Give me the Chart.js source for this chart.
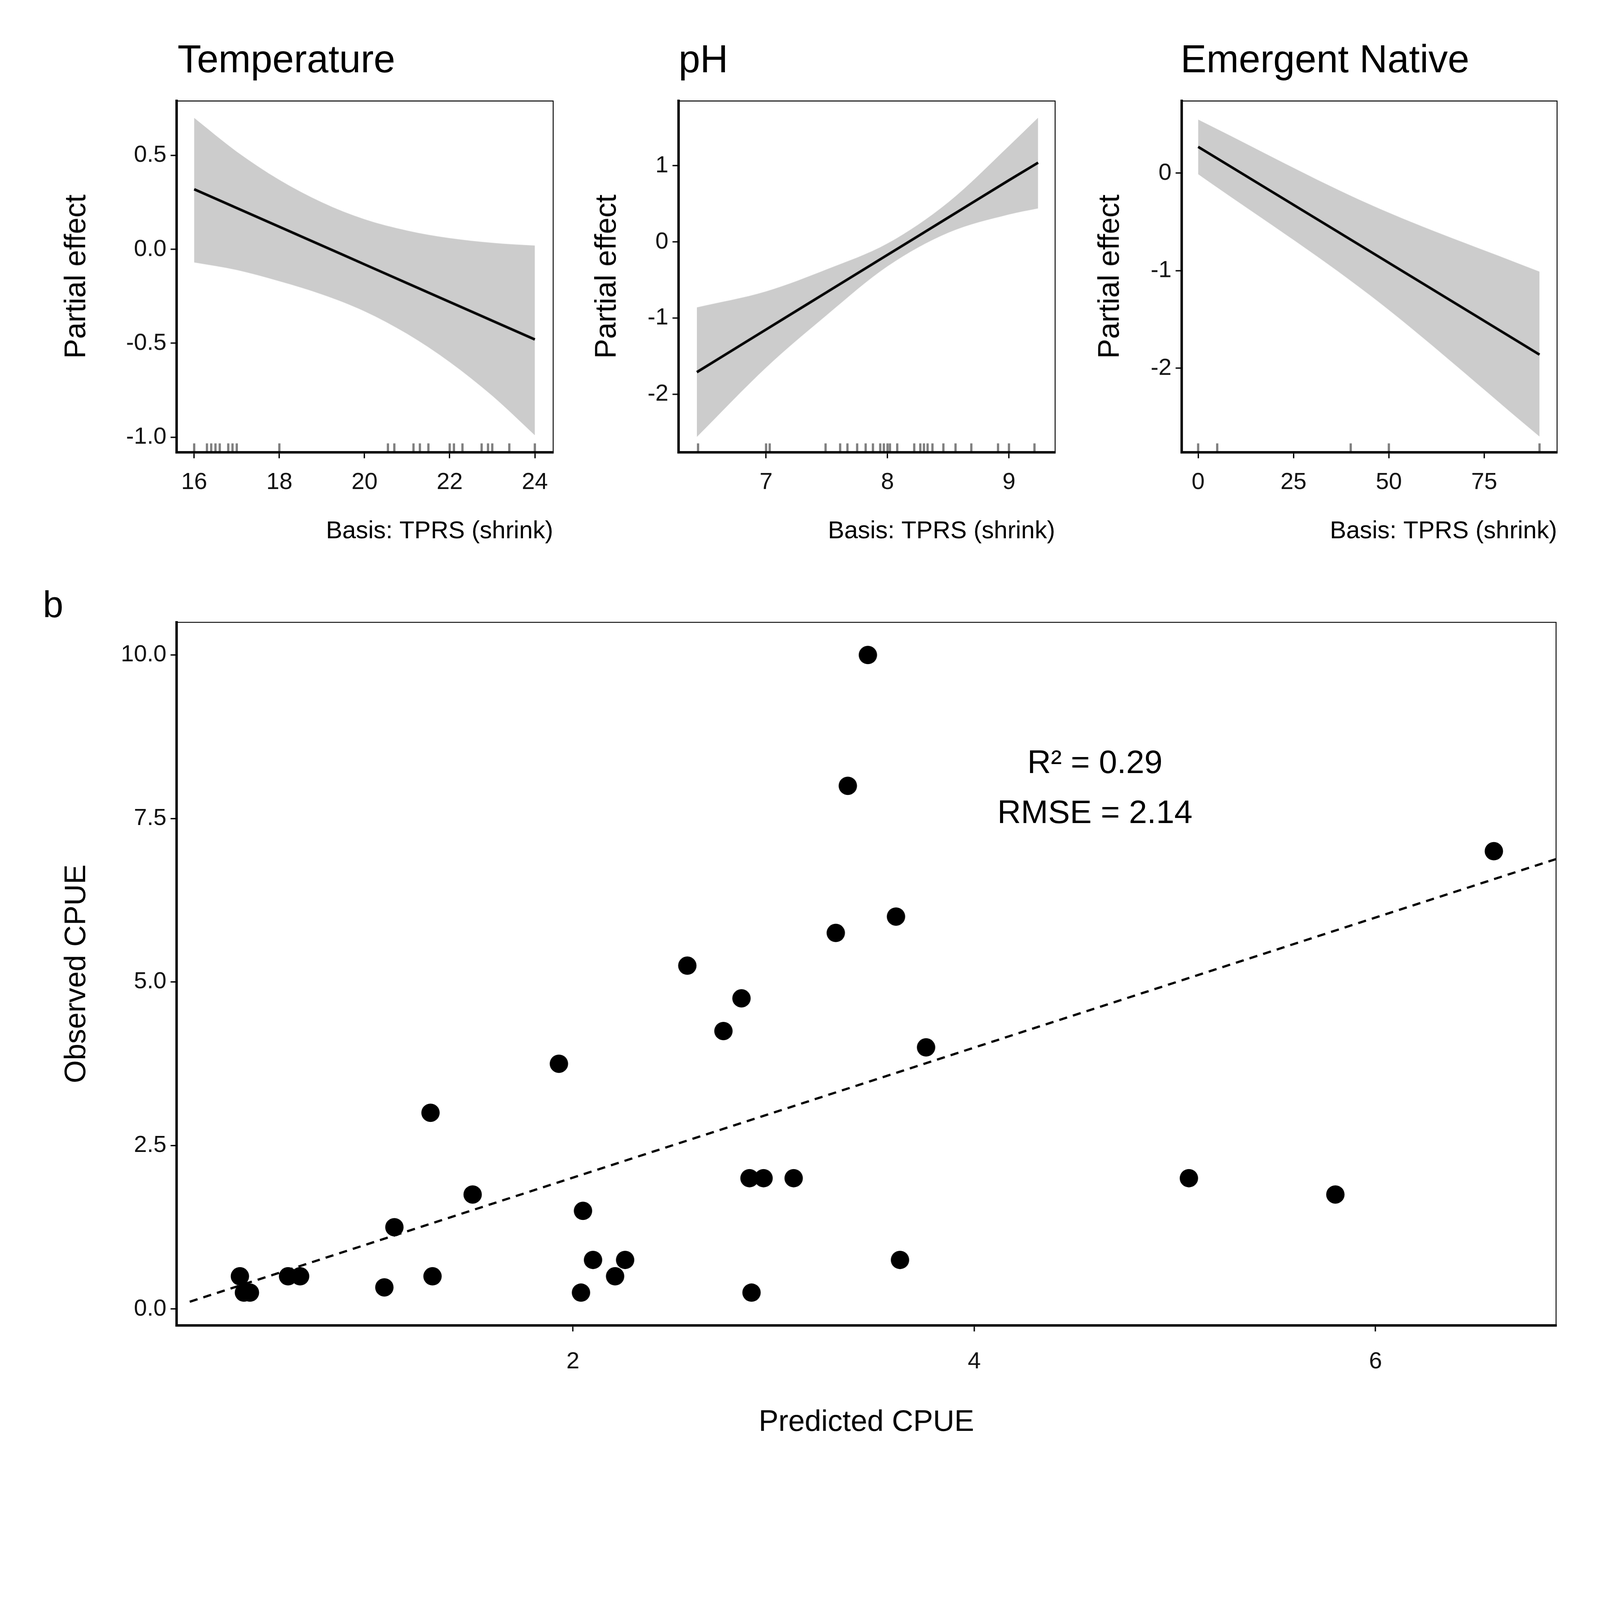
<!DOCTYPE html>
<html><head><meta charset="utf-8">
<script src="https://cdn.jsdelivr.net/npm/chart.js@4"></script>
<style>
html,body{margin:0;padding:0;background:#fff;overflow:hidden;}
#wrap{position:relative;width:100vw;height:100vh;font-family:"Liberation Sans",Arial,sans-serif;}
canvas{position:absolute;}
.t{position:absolute;color:#000;white-space:nowrap;}
</style></head>
<body>
<div id="wrap"></div>
<script>
// --- данные: температура
var tempX = [16, 17, 18, 19, 20, 21, 22, 23, 24];
var tempFit = [0.32, 0.22, 0.12, 0.02, -0.08, -0.18, -0.28, -0.38, -0.48];
var tempUpper = [0.70, 0.52, 0.37, 0.25, 0.16, 0.10, 0.06, 0.035, 0.02];
var tempLower = [-0.07, -0.11, -0.17, -0.24, -0.33, -0.45, -0.60, -0.78, -0.99];
var tempRug = [16.0, 16.3, 16.4, 16.5, 16.6, 16.8, 16.9, 17.0, 18.0, 20.55, 20.7, 21.15, 21.3, 21.5, 22.0, 22.1, 22.3, 22.75, 22.9, 23.0, 23.4, 24.0];
var tempTicks = [-1.0, -0.5, 0.0, 0.5];
var tempXTicks = [16, 18, 20, 22, 24];
// --- pH
var phX = [6.43, 7, 7.5, 8, 8.5, 9, 9.24];
var phFit = [-1.71, -1.15, -0.66, -0.17, 0.32, 0.81, 1.04];
var phUpper = [-0.86, -0.65, -0.36, -0.02, 0.52, 1.26, 1.63];
var phLower = [-2.56, -1.65, -0.96, -0.32, 0.12, 0.36, 0.44];
var phRug = [6.44, 7.0, 7.03, 7.49, 7.61, 7.67, 7.75, 7.82, 7.88, 7.94, 7.97, 8.0, 8.02, 8.08, 8.22, 8.27, 8.3, 8.33, 8.37, 8.46, 8.56, 8.69, 8.91, 9.0, 9.21];
var phTicks = [-2, -1, 0, 1];
var phXTicks = [7, 8, 9];
// --- emergent native
var emX = [0, 45, 89.5];
var emFit = [0.27, -0.80, -1.86];
var emUpper = [0.55, -0.32, -1.01];
var emLower = [-0.01, -1.25, -2.70];
var emRug = [0, 5, 40, 50, 89.5];
var emTicks = [-2, -1, 0];
var emXTicks = [0, 25, 50, 75];
// --- панель b
var predCPUE = [3.47, 3.37, 6.59, 3.61, 3.31, 2.57, 2.84, 2.75, 3.76, 1.93, 1.29, 2.88, 2.95, 3.10, 5.07, 1.50, 5.80, 2.05, 1.11, 2.10, 2.26, 3.63, 0.34, 0.58, 0.64, 1.30, 2.21, 1.06, 0.36, 0.39, 2.04, 2.89];
var obsCPUE = [10, 8, 7, 6, 5.75, 5.25, 4.75, 4.25, 4.0, 3.75, 3.0, 2.0, 2.0, 2.0, 2.0, 1.75, 1.75, 1.5, 1.25, 0.75, 0.75, 0.75, 0.5, 0.5, 0.5, 0.5, 0.5, 0.33, 0.25, 0.25, 0.25, 0.25];
var refLineX = [0.09, 6.9];
var refLineY = [0.11, 6.88];
var bYTicks = [0, 2.5, 5, 7.5, 10];
var bXTicks = [2, 4, 6];

var S = (window.innerWidth || 4056) / 1568; // масштаб от эскиза
var FONT = '"Liberation Sans", Arial, sans-serif';
var wrap = document.getElementById('wrap');

function addText(txt, l, t, size, extra){
    var d = document.createElement('div');
    d.className = 't';
    d.innerHTML = txt;
    d.style.left = (l * S) + 'px'; d.style.top = (t * S) + 'px'; d.style.fontSize = (size * S) + 'px';
    if (extra) { Object.assign(d.style, extra); }
    wrap.appendChild(d);
}
function addCanvas(l, t, w, h){
    var c = document.createElement('canvas');
    c.style.left = (l * S) + 'px'; c.style.top = (t * S) + 'px';
    c.style.width = (w * S) + 'px'; c.style.height = (h * S) + 'px';
    c.width = Math.round(w * S); c.height = Math.round(h * S);
    wrap.appendChild(c);
    return c;
}
function pts(xs, ys){ return xs.map(function(x, i){ return {x: x, y: ys[i]}; }); }

addText('Temperature', 174, 36, 38);
addText('pH', 665, 36, 38);
addText('Emergent Native', 1157, 36, 38);
addText('b', 42, 572, 36);
addText('R² = 0.29<br>RMSE = 2.14', 923, 722, 32, {width: (300 * S) + 'px', textAlign: 'center', lineHeight: (49 * S) + 'px'});

var boxPlugin = { // тонкая рамка сверху и справа
    id: 'box',
    afterDatasetsDraw: function(chart){
        var a = chart.chartArea, c = chart.ctx;
        c.save(); c.strokeStyle = '#000'; c.lineWidth = 0.9 * S;
        c.beginPath(); c.moveTo(a.left, a.top); c.lineTo(a.right, a.top); c.lineTo(a.right, a.bottom); c.stroke();
        c.restore();
    }
};

function axis(min, max, ticks, fmt, sizeFix, title, titleAlign, titleSize, pad){
    return {
        type: 'linear', min: min, max: max,
        afterBuildTicks: function(s){ s.ticks = ticks.map(function(v){ return {value: v}; }); },
        afterFit: function(s){
            if (s.isHorizontal()) { s.height = sizeFix * S; s.paddingLeft = 0; s.paddingRight = 0; }
            else { s.width = sizeFix * S; s.paddingTop = 0; s.paddingBottom = 0; }
        },
        ticks: {color: '#111', font: {family: FONT, size: 23 * S}, padding: pad * S, callback: fmt, maxRotation: 0, autoSkip: false},
        grid: {drawOnChartArea: false, drawTicks: true, tickLength: 6 * S, color: '#000', lineWidth: 1.3 * S},
        border: {color: '#000', width: 2.4 * S},
        title: {display: true, text: title, align: titleAlign, color: '#000', font: {family: FONT, size: titleSize * S}, padding: 0}
    };
}

function smoothPanel(cv, xs, fit, up, lo, rug, xmin, xmax, ymin, ymax, yt, yfmt, xt, ywidth){
    var rugY = ymin + (ymax - ymin) * 0.012;
    new Chart(cv, {
        type: 'scatter',
        data: {datasets: [
            {data: pts(xs, up), order: 3, showLine: true, borderWidth: 0, pointRadius: 0, fill: '+1', backgroundColor: '#cccccc', cubicInterpolationMode: 'monotone'},
            {data: pts(xs, lo), order: 4, showLine: true, borderWidth: 0, pointRadius: 0, cubicInterpolationMode: 'monotone'},
            {data: pts(xs, fit), order: 1, showLine: true, borderColor: '#000', borderWidth: 2.5 * S, pointRadius: 0, cubicInterpolationMode: 'monotone'},
            {data: rug.map(function(v){ return {x: v, y: rugY}; }), order: 2, pointStyle: 'line', rotation: 90, pointRadius: 4.5 * S, borderColor: 'rgba(0,0,0,0.5)', borderWidth: 2.2 * S}
        ]},
        options: {
            responsive: false, animation: false,
            layout: {padding: {top: 9 * S, right: 8 * S}},
            plugins: {legend: {display: false}, tooltip: {enabled: false}},
            scales: {
                x: axis(xmin, xmax, xt, function(v){ return String(v); }, 92, 'Basis: TPRS (shrink)', 'end', 24, 10),
                y: axis(ymin, ymax, yt, yfmt, ywidth, 'Partial effect', 'center', 29, 4)
            }
        },
        plugins: [boxPlugin]
    });
}

smoothPanel(addCanvas(58, 90, 492, 445), tempX, tempFit, tempUpper, tempLower, tempRug, 15.59, 24.43, -1.08, 0.79, tempTicks, function(v){ return v.toFixed(1); }, tempXTicks, 115);
smoothPanel(addCanvas(578, 90, 464, 445), phX, phFit, phUpper, phLower, phRug, 6.28, 9.38, -2.76, 1.85, phTicks, function(v){ return String(v); }, phXTicks, 87);
smoothPanel(addCanvas(1071, 90, 463, 445), emX, emFit, emUpper, emLower, emRug, -4.3, 94.1, -2.86, 0.74, emTicks, function(v){ return String(v); }, emXTicks, 87);

new Chart(addCanvas(58, 600, 1476, 812), {
    type: 'scatter',
    data: {datasets: [
        {data: pts(refLineX, refLineY), order: 2, showLine: true, borderColor: '#000', borderWidth: 2.2 * S, borderDash: [8 * S, 6 * S], pointRadius: 0},
        {data: pts(predCPUE, obsCPUE), order: 1, backgroundColor: '#000', borderWidth: 0, pointRadius: 9 * S}
    ]},
    options: {
        responsive: false, animation: false,
        layout: {padding: {top: 10 * S}},
        plugins: {legend: {display: false}, tooltip: {enabled: false}},
        scales: {
            x: axis(0.025, 6.9, bXTicks, function(v){ return String(v); }, 113, 'Predicted CPUE', 'center', 29, 16),
            y: axis(-0.25, 10.5, bYTicks, function(v){ return v.toFixed(1); }, 115, 'Observed CPUE', 'center', 29, 4)
        }
    },
    plugins: [boxPlugin]
});
</script>
</body></html>
